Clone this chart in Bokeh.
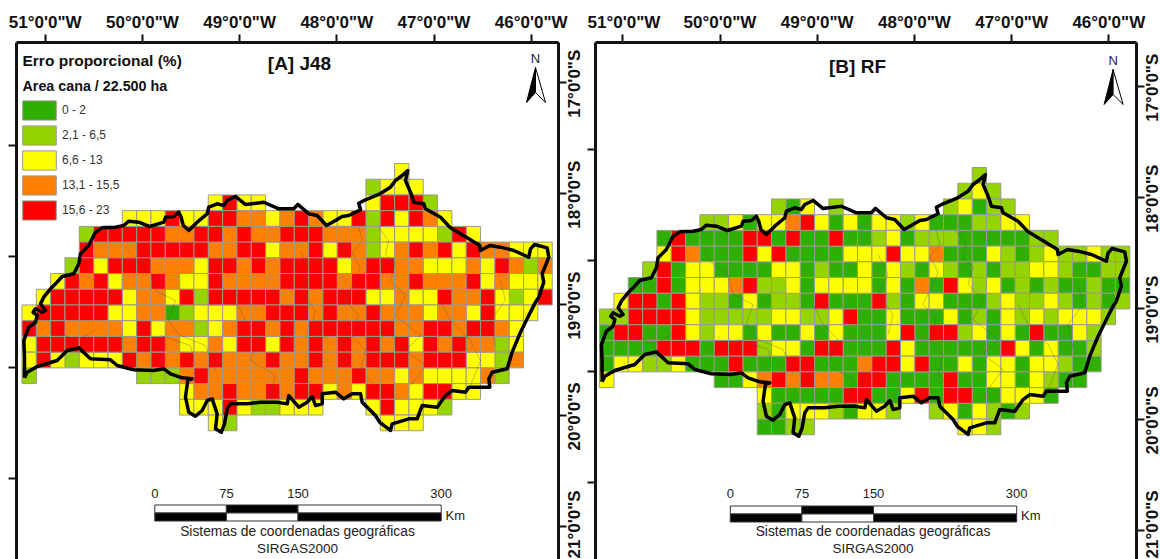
import math
from bokeh.plotting import figure
from bokeh.layouts import row
from bokeh.embed import file_html
from bokeh.resources import INLINE
from bokeh.core.properties import value
from bokeh.models import (ColumnDataSource, FixedTicker, Legend, LegendItem, LinearAxis)

class_codes = ["G", "L", "Y", "O", "R"]
class_labels = ["0 - 2", "2,1 - 6,5", "6,6 - 13", "13,1 - 15,5", "15,6 - 23"]
class_colors = ["#2DB000", "#96D400", "#FFFF00", "#FF8000", "#FF0000"]

j48_starts = [26, 24, 13, 7, 4, 4, 3, 2, 1, 0, 0, 0, 0, 0, 11, 11, 13]
j48_rows = [
    "Y",
    "LYYY",
    "YRYY.......YRRRL",
    "YYYRYYRROOYOROYYRLRYROY",
    "LRRRRROORROROORRROOOLYYYYLRY",
    "ROOORRRRROORRYOORYROLYORORYROOYYY",
    "LRYRRROOOYRRORORRRRYORROOYYYOYROLO",
    "YRORYOOROYYROOOORRRRORROOROOORYOYYY",
    "YRRRRRYOOYRLRRRRRORORRRYYOYYROORYLYR",
    "YRRRRRYYOOGLYYYOORRROROOROOOYOOYRYYY",
    "ROROOOOYRYOOLYORRORORRRRRROORRORROY",
    "YRRRRRRORROYYOYRRYRORORORORYROROOLY",
    "YRYLYYYROROROROOOROOROROR" + "RRORRRYYLO",
    "L.......LLLOROOOOOOROOOROOYOYYYYOL",
    "YOOROORORRYOYRROYRRYY",
    "YYYRYLLYYY...YRYYYL",
    "YL..........YYY",
]

rf_starts = [26, 25, 12, 7, 4, 4, 3, 2, 1, 0, 0, 0, 0, 0, 11, 11, 11]
rf_rows = [
    "L",
    "LYL",
    "LGY.L.......LYGLL",
    "LLYGYYORYGYGYYLYGGGLLYY",
    "GRGGGGRRGRGGRGGLYGLLLGGGGGLL",
    "YROGGGRYRGGGGYYYRYYOGGGYLGLYLLYLL",
    "LRGYYGGGGYYGLGGYGYLGYLGLGLLYYLGGLL",
    "GGRGYYYORLLYGYYYYGYGOGRYLYGLGLGGLGG",
    "YRRGRYLLGYGLLGRGGGRLGYYGGGLYLLYLGLGL",
    "LLRRRRYLLLLLYYLLYRGGYGGGYGLGYLYLYYYL",
    "GRRGGRYLYYGYGGYGYGGGYRGRRLYGYGRGGYL",
    "GGGGRRRGRRRLYYGRRGGGRYGGGGGGRYGYGGL",
    "GYYLLYGGGRGGGRRGGGORRYRGGYGYYGYYLGG",
    "Y.......GGYOROROOGRRGGGGRGGYYGYLGG",
    "YGGGGGRRGGYRGRRGGYYYG",
    "LGYYYLGYYL..LYGYLGL",
    "GGLL..........YYL",
]

boundary_lon = [-51.213,-51.213,-51.220,-51.169,-51.100,-51.082,-51.124,-51.100,-51.031,-50.997,-51.048,-51.015,-50.946,-50.894,-50.825,-50.706,-50.654,-50.637,-50.552,-50.483,-50.414,-50.277,-50.192,-50.140,-50.037,-49.924,-49.780,-49.762,-49.677,-49.626,-49.601,-49.580,-49.523,-49.436,-49.333,-49.317,-49.231,-49.163,-49.128,-49.042,-48.939,-48.751,-48.597,-48.443,-48.401,-48.288,-48.202,-48.106,-48.014,-47.945,-47.877,-47.756,-47.774,-47.705,-47.568,-47.448,-47.396,-47.327,-47.270,-47.293,-47.235,-47.208,-47.105,-47.088,-46.933,-46.830,-46.659,-46.529,-46.522,-46.426,-46.316,-46.179,-46.025,-46.007,-45.966,-45.836,-45.819,-45.887,-45.871,-45.922,-45.956,-46.025,-46.110,-46.196,-46.247,-46.401,-46.436,-46.426,-46.642,-46.676,-46.813,-46.882,-46.967,-47.122,-47.173,-47.259,-47.430,-47.448,-47.558,-47.602,-47.739,-47.756,-47.842,-47.928,-48.014,-48.150,-48.150,-48.219,-48.253,-48.305,-48.391,-48.494,-48.510,-48.613,-48.785,-48.922,-49.094,-49.128,-49.155,-49.189,-49.248,-49.231,-49.282,-49.333,-49.385,-49.454,-49.523,-49.557,-49.533,-49.488,-49.591,-49.711,-49.780,-49.883,-50.089,-50.259,-50.328,-50.534,-50.654,-50.774,-50.877,-51.082,-51.185,-51.213]
boundary_lat = [-19.660,-19.474,-19.324,-19.204,-19.159,-19.098,-19.069,-19.038,-19.069,-19.053,-18.993,-18.933,-18.858,-18.813,-18.747,-18.722,-18.632,-18.542,-18.467,-18.347,-18.308,-18.302,-18.287,-18.248,-18.257,-18.296,-18.257,-18.212,-18.206,-18.167,-18.212,-18.287,-18.332,-18.257,-18.181,-18.122,-18.091,-18.107,-18.061,-18.025,-18.098,-18.077,-18.136,-18.136,-18.097,-18.181,-18.197,-18.287,-18.242,-18.206,-18.197,-18.145,-18.086,-18.055,-18.007,-17.941,-17.881,-17.836,-17.791,-17.881,-18.001,-18.077,-18.091,-18.136,-18.212,-18.308,-18.398,-18.467,-18.512,-18.467,-18.482,-18.512,-18.573,-18.497,-18.458,-18.488,-18.573,-18.722,-18.798,-18.933,-18.978,-19.098,-19.249,-19.429,-19.579,-19.610,-19.669,-19.745,-19.745,-19.790,-19.775,-19.820,-19.925,-19.910,-20.030,-20.030,-20.075,-20.135,-20.061,-20.000,-19.880,-19.804,-19.804,-19.850,-19.790,-19.804,-19.895,-19.910,-19.829,-19.880,-19.925,-19.820,-19.895,-19.880,-19.880,-19.895,-19.895,-19.940,-20.075,-20.151,-20.120,-19.985,-19.850,-19.865,-19.955,-20.006,-19.970,-19.835,-19.684,-19.669,-19.660,-19.624,-19.579,-19.594,-19.588,-19.549,-19.498,-19.489,-19.390,-19.414,-19.504,-19.558,-19.610,-19.660]

# faint inner drainage lines
river_lons = [
    [-47.777,-47.736,-47.839,-47.756,-47.839,-47.911,-47.777,-47.839,-47.705,-47.756,-47.602],
    [-47.571,-47.468,-47.499,-47.396,-47.448,-47.293,-47.396,-47.139,-47.293,-47.088,-47.242],
    [-50.174,-50.071,-49.917,-49.865,-49.660,-49.732,-49.608,-49.351,-49.248],
    [-49.042,-48.939,-48.785,-48.888,-48.631,-48.682],
    [-46.933,-46.830,-46.625,-46.522,-46.625],
    [-46.316,-46.265,-46.419,-46.367],
    [-48.374,-48.271,-48.374,-48.219,-48.271],
    [-49.814,-49.505,-49.454],
    [-50.894,-50.688,-50.483],
]
river_lats = [
    [-18.296,-18.422,-18.530,-18.675,-18.828,-18.963,-19.098,-19.279,-19.414,-19.594,-19.730],
    [-18.305,-18.422,-18.557,-18.620,-18.783,-18.918,-19.098,-19.279,-19.414,-19.549,-19.730],
    [-18.467,-18.602,-18.693,-18.873,-18.963,-19.143,-19.279,-19.369,-19.594],
    [-18.963,-19.143,-19.279,-19.504,-19.639,-19.820],
    [-18.963,-19.143,-19.324,-19.504,-19.730],
    [-18.783,-18.963,-19.143,-19.369],
    [-18.512,-18.693,-18.873,-19.053,-19.234],
    [-19.279,-19.369,-19.549],
    [-19.234,-19.324,-19.234],
]

lon_ticks = [-51, -50, -49, -48, -47, -46]
lon_labels = ['51°0\'0"W', '50°0\'0"W', '49°0\'0"W', '48°0\'0"W', '47°0\'0"W', '46°0\'0"W']
lat_ticks = [-17, -18, -19, -20, -21]
lat_labels = ['17°0\'0"S', '18°0\'0"S', '19°0\'0"S', '20°0\'0"S', '21°0\'0"S']
left_ticks = [-17.565, -18.565, -19.565, -20.565]
scale_km = [0, 75, 150, 300]

GRID_W = 14.33 / 97.2
GRID_H = 15.72 / 110.9
GRID_LON0 = -51.2387
GRID_LAT0 = -17.7277
FONT = value("Liberation Sans")


def cells(starts, rows):
    out = {c: dict(l=[], r=[], t=[], b=[]) for c in class_codes}
    for i, (s, txt) in enumerate(zip(starts, rows)):
        for j, ch in enumerate(txt):
            if ch == ".":
                continue
            col = s + j
            d = out[ch]
            d["l"].append(GRID_LON0 + col * GRID_W)
            d["r"].append(GRID_LON0 + (col + 1) * GRID_W)
            d["t"].append(GRID_LAT0 - i * GRID_H)
            d["b"].append(GRID_LAT0 - (i + 1) * GRID_H)
    return out


def panel(starts, rows, title, xoff, yoff, bar_off, title_x, frame, width, left, right, label_standoff, legend):
    # sheet position -> lon/lat, for the map furniture
    X = lambda px: -51 + (px - 44.7 - xoff) / 97.2
    Y = lambda py: -17 - (py - 82.3 - yoff) / 110.9
    p = figure(width=width, height=559, frame_width=frame[1] - frame[0], frame_height=517,
               output_backend="svg", toolbar_location=None,
               x_range=(X(frame[0]), X(frame[1])), y_range=(Y(559), Y(42)),
               x_axis_location="above", y_axis_location="right",
               min_border_left=left, min_border_right=right, min_border_top=42, min_border_bottom=0)
    p.outline_line_color = None
    p.border_fill_color = None
    p.grid.visible = False
    top, rgt = p.xaxis[0], p.yaxis[0]
    top.ticker = FixedTicker(ticks=lon_ticks)
    top.major_label_overrides = dict(zip(lon_ticks, lon_labels))
    rgt.ticker = FixedTicker(ticks=lat_ticks)
    rgt.major_label_overrides = {t: "" for t in lat_ticks}
    rgt.major_label_text_font_size = "0px"
    rgt.major_label_standoff = 0
    lft = LinearAxis(ticker=FixedTicker(ticks=left_ticks), major_label_text_font_size="0px",
                     major_label_standoff=0, major_label_overrides={t: "" for t in left_ticks})
    p.add_layout(lft, "left")
    for ax in (top, rgt, lft):
        ax.axis_line_width = 3
        ax.axis_line_color = "#111111"
        ax.major_tick_line_width = 2
        ax.major_tick_line_color = "#111111"
        ax.major_tick_out = 8
        ax.major_tick_in = 0
        ax.minor_tick_line_color = None
    top.major_label_text_font = "Liberation Sans"
    top.major_label_text_font_style = "bold"
    top.major_label_text_color = "#111111"
    top.major_label_standoff = 3
    top.major_label_text_font_size = "17px"

    # latitude labels read bottom-to-top: each starts half its length below its tick
    half_len = 35 / 110.9
    anchors = [round(max(t - half_len, Y(558)), 4) for t in lat_ticks]
    lab_ax = LinearAxis(ticker=FixedTicker(ticks=anchors), major_label_overrides=dict(zip(anchors, lat_labels)),
                        major_label_orientation=math.pi / 2, axis_line_color=None, major_tick_line_color=None,
                        minor_tick_line_color=None, major_tick_out=0, major_tick_in=0,
                        major_label_standoff=label_standoff,
                        major_label_text_font="Liberation Sans", major_label_text_font_style="bold",
                        major_label_text_font_size="17px", major_label_text_color="#111111")
    p.add_layout(lab_ax, "right")

    data = cells(starts, rows)
    rend = {}
    for c, col in zip(class_codes, class_colors):
        rend[c] = p.quad(left="l", right="r", top="t", bottom="b", source=ColumnDataSource(data[c]),
                         fill_color=col, line_color="#9a9a8c", line_width=1)
    p.multi_line(river_lons, river_lats, line_color="#555555", line_alpha=0.45, line_width=0.8)
    p.line(boundary_lon, boundary_lat, line_color="black", line_width=3.5, line_join="round")

    def text(px, py, txt, size, bold=False, align="left", color="#222222"):
        p.text([X(px)], [Y(py)], text=[txt], text_font=FONT, text_font_size=size,
               text_font_style="bold" if bold else "normal", text_align=align,
               text_baseline="middle", text_color=color)

    text(title_x, 63 + yoff * 0.75, title, "19px", True, "center", "#111111")

    # north arrow
    ax0 = 535 + xoff
    text(ax0, 58 + yoff * 0.5, "N", "13px", False, "center", "#222222")
    ay = [Y(67 + yoff * .5), Y(102 + yoff * .5), Y(92 + yoff * .5)]
    p.patch([X(ax0), X(ax0 - 9), X(ax0)], ay, fill_color="black", line_color="black", line_width=1)
    p.patch([X(ax0), X(ax0 + 10), X(ax0)], ay, fill_color="white", line_color="black", line_width=1)

    # scale bar, from its km values
    km = lambda k: X(154.3 + bar_off + k * 0.9547)
    y0, y1, y2 = Y(504.5 + yoff * .25), Y(512.5 + yoff * .25), Y(520.5 + yoff * .25)
    for a, b, upper in zip(scale_km[:-1], scale_km[1:], ["white", "black", "white"]):
        lower = "black" if upper == "white" else "white"
        p.quad(left=[km(a)], right=[km(b)], top=[y0], bottom=[y1], fill_color=upper, line_color="#333333", line_width=1)
        p.quad(left=[km(a)], right=[km(b)], top=[y1], bottom=[y2], fill_color=lower, line_color="#333333", line_width=1)
    for k in scale_km:
        text(154.3 + bar_off + k * 0.9547, 492.5, str(k), "13px", False, "center")
    text(445 + bar_off, 515, "Km", "13px")
    text(297 + bar_off, 531, "Sistemas de coordenadas geográficas", "13.8px", False, "center")
    text(297 + bar_off, 548, "SIRGAS2000", "13.5px", False, "center")

    if legend:
        lg = Legend(items=[LegendItem(label=lb, renderers=[rend[c]]) for c, lb in zip(class_codes, class_labels)],
                    location=(2, 337), orientation="vertical", border_line_color=None,
                    background_fill_alpha=0, margin=0, padding=0, spacing=1,
                    glyph_width=42, glyph_height=24, label_height=24, label_standoff=2,
                    label_text_font="Liberation Sans", label_text_font_size="12px", label_text_color="#333333")
        p.add_layout(lg, "center")
        text(22, 60, "Erro proporcional (%)", "15.5px", True, "left", "#111111")
        text(22, 85, "Area cana / 22.500 ha", "14.3px", True, "left", "#111111")
    return p


pa = panel(j48_starts, j48_rows, "[A] J48", 0, 0, 0, 299, (16, 558), 587, 16, 29, 8, True)
pb = panel(rf_starts, rf_rows, "[B] RF", 577.6, 4, 575.5, 857, (595, 1136), 573, 8, 24, 8, False)
pb.margin = (0, 0, 0, -9)
open("out.html", "w").write(file_html(row(pa, pb), INLINE))
